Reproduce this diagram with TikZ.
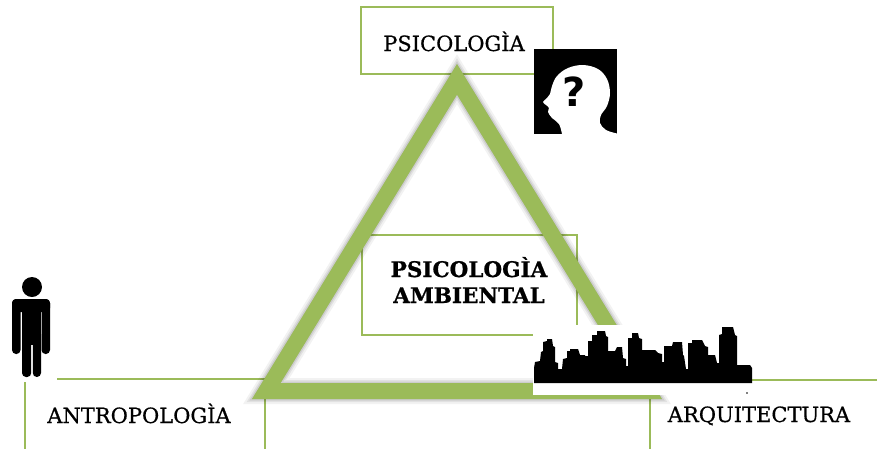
\documentclass[tikz,border=0pt]{standalone}
\usepackage{fontspec}
\setmainfont{DejaVu Serif}[FakeStretch=1.02]
\newfontfamily\tagfont{DejaVu Serif}[FakeStretch=1.0,FakeBold=0.6]
\newfontfamily\headfont{DejaVu Serif Bold}[FakeStretch=1.0,FakeBold=0.8]
\newfontfamily\qmarkfont{DejaVu Sans}
\definecolor{leafgreen}{HTML}{9BBB59}
\begin{document}
\begin{tikzpicture}[x=1pt,y=-1pt,line join=miter,
  boxline/.style={draw=leafgreen,line width=1.8pt},
  tagtext/.style={font=\fontsize{21}{24}\tagfont,anchor=base,inner sep=0pt},
  maintext/.style={font=\fontsize{21.5}{24}\headfont,anchor=base,inner sep=0pt},
  trianglestroke/.style={draw=leafgreen,line width=16pt,line join=miter}]
\useasboundingbox (0,0) rectangle (877,448);
\clip (0,0) rectangle (877,448);

% label boxes
\draw[boxline] (361,7) rectangle (553,74);
\draw[boxline] (362,235) rectangle (577,335);
\draw[boxline] (25,460) -- (25,379) -- (265,379) -- (265,460);
\draw[boxline] (650,460) -- (650,380) -- (890,380);

% triangle corners (stroke centre line)
\coordinate (apex) at (457,79.3);
\coordinate (bl) at (266.3,391);
\coordinate (br) at (647.7,391);

% soft drop shadow of the triangle, cast down and to the right
\foreach \w/\o in {26/0.05,22/0.07,19/0.09,16/0.11} {
  \draw[draw=black,opacity=\o,line width=\w pt,line join=miter,shift={(7,7)}]
    (apex) -- (bl) -- (br) -- cycle;
}
\draw[trianglestroke] (apex) -- (bl) -- (br) -- cycle;

% texts
\node[tagtext] (psico) at (454,51) {PSICOLOGÌA};
\node[tagtext] (antro) at (139,423) {ANTROPOLOGÌA};
\node[tagtext] (arq) at (759,422) {ARQUITECTURA};
\node[maintext] (amb1) at (469,277) {PSICOLOGÌA};
\node[maintext] (amb2) at (469,303) {AMBIENTAL};

% head in profile with a question mark
\fill[black] (534,49) rectangle (617,134);
\fill[white] (562,134) -- plot[smooth,tension=0.6] coordinates {
  (562,134) (559,124) (552,118) (548,112) (549,108) (546,105) (543,102)
  (547,98) (550,94) (552,86) (557,76) (568,68) (583,65) (598,69) (607,79)
  (610,93) (607,106) (601,115) (600,123) (606,130) (617,133.5)}
  -- (617,134) -- cycle;
\node[font=\fontsize{40}{42}\selectfont\qmarkfont\bfseries,inner sep=0pt]
  (qmark) at (574,92) {?};

% standing person
\fill[white] (0,268) rectangle (57,382);
\fill[black] (32,287) circle (10);
\fill[black,rounded corners=4pt] (12,299) rectangle (20.5,354);
\fill[black,rounded corners=4pt] (41.5,299) rectangle (50,354);
\fill[black,rounded corners=4pt] (12,299) rectangle (50,312);
\fill[black] (22,303) rectangle (41,345);
\fill[black,rounded corners=4pt] (22,330) rectangle (31.2,377);
\fill[black,rounded corners=4pt] (32.8,330) rectangle (41,377);

% city skyline
\fill[white] (533,325) rectangle (750,395);
\fill[black]
  (534,383) -- (534,368) -- (535,362) -- (540,361) -- (541,352) -- (543,351)
  -- (543,342) -- (547,341) -- (547,339) -- (552,339) -- (553,346) -- (555,347)
  -- (555,362) -- (558,363) -- (558,369) -- (562,369) -- (563,359) -- (567,358)
  -- (567,351) -- (570,351) -- (570,349) -- (578,349) -- (580,355) -- (585,355)
  -- (585,356) -- (588,356) -- (588,341) -- (592,341) -- (592,335) -- (597,335)
  -- (597,331) -- (605,331) -- (606,336) -- (608,337) -- (608,351) -- (615,351)
  -- (617,347) -- (622,347) -- (623,358) -- (626,359) -- (626,366) -- (628,366)
  -- (628,338) -- (632,338) -- (632,333) -- (638,333) -- (639,338) -- (642,339)
  -- (642,350) -- (655,350) -- (658,353) -- (662,354) -- (662,362) -- (664,362)
  -- (664,346) -- (672,346) -- (673,342) -- (682,342) -- (683,355) -- (684,356)
  -- (686,369) -- (688,369) -- (688,343) -- (692,343) -- (692,340) -- (702,340)
  -- (705,346) -- (708,347) -- (708,355) -- (715,355) -- (717,363) -- (719,363)
  -- (719,335) -- (722,334) -- (722,327) -- (733,327) -- (735,335) -- (737,336)
  -- (737,365) -- (750,365) -- (752,368) -- (752,383) -- cycle;
\fill[black] (747,393) circle (0.9);
\end{tikzpicture}
\end{document}
